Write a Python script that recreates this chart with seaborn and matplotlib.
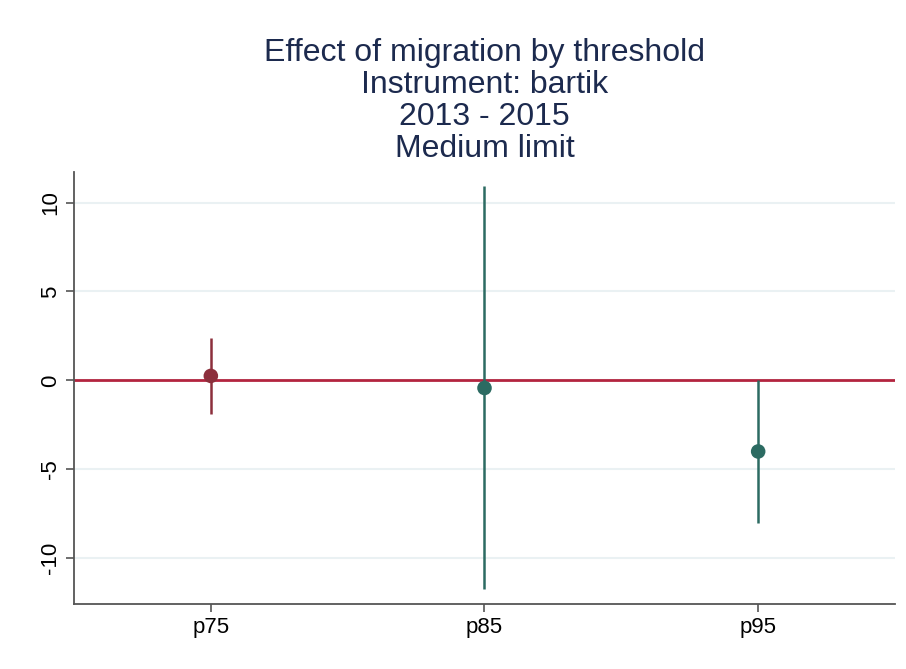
import pandas as pd
import seaborn as sns
import matplotlib.pyplot as plt

thresholds = ["p75", "p85", "p95"]
estimates = [0.25, -0.43, -4.0]
ci_low = [-1.87, -11.76, -8.0]
ci_high = [2.39, 10.94, 0.02]
groups = ["a", "b", "b"]  # colour group only

sns.set_theme(style="white")
plt.rcParams["font.family"] = ["Liberation Sans", "DejaVu Sans"]
plt.rcParams["axes.unicode_minus"] = False

df = pd.DataFrame({
    "threshold": thresholds,
    "est": estimates,
    "lo": ci_low,
    "hi": ci_high,
    "grp": groups,
})
colors = {"a": "#8c2f3c", "b": "#2c6b62"}

fig = plt.figure(figsize=(9.06, 6.69), dpi=100)
ax = fig.add_axes([74 / 906, 65 / 669, (895 - 74) / 906, (497 - 65) / 669])

ax.axhline(0, color="#b3243f", linewidth=2, zorder=1)

# confidence intervals
for i, row in df.iterrows():
    ax.vlines(row["threshold"], row["lo"], row["hi"], color=colors[row["grp"]],
              linewidth=1.8, zorder=2)

sns.scatterplot(data=df, x="threshold", y="est", hue="grp", palette=colors,
                s=110, edgecolor="none", legend=False, zorder=3, ax=ax)

ax.set_xlim(-0.5, 2.5)
ax.set_ylim(-12.58, 11.72)
ax.set_yticks([-10, -5, 0, 5, 10])
ax.set_xlabel("")
ax.set_ylabel("")
ax.yaxis.grid(True, color="#eaf1f3", linewidth=1.5)
ax.set_axisbelow(True)

sns.despine(ax=ax)
for side in ["left", "bottom"]:
    ax.spines[side].set_color("#555555")
    ax.spines[side].set_linewidth(1.3)

ax.tick_params(axis="both", direction="out", length=6, width=1.2, color="#555555",
               labelsize=16, labelcolor="black", left=True, bottom=True)
for lab in ax.get_yticklabels():
    lab.set_rotation(90)
    lab.set_va("center")

fig.suptitle("Effect of migration by threshold\nInstrument: bartik\n2013 - 2015\nMedium limit",
             x=(74 + 895) / 2 / 906, y=0.943, fontsize=23, color="#1c2a4e",
             linespacing=1.09, va="top")

plt.savefig("out.png", dpi=100)
